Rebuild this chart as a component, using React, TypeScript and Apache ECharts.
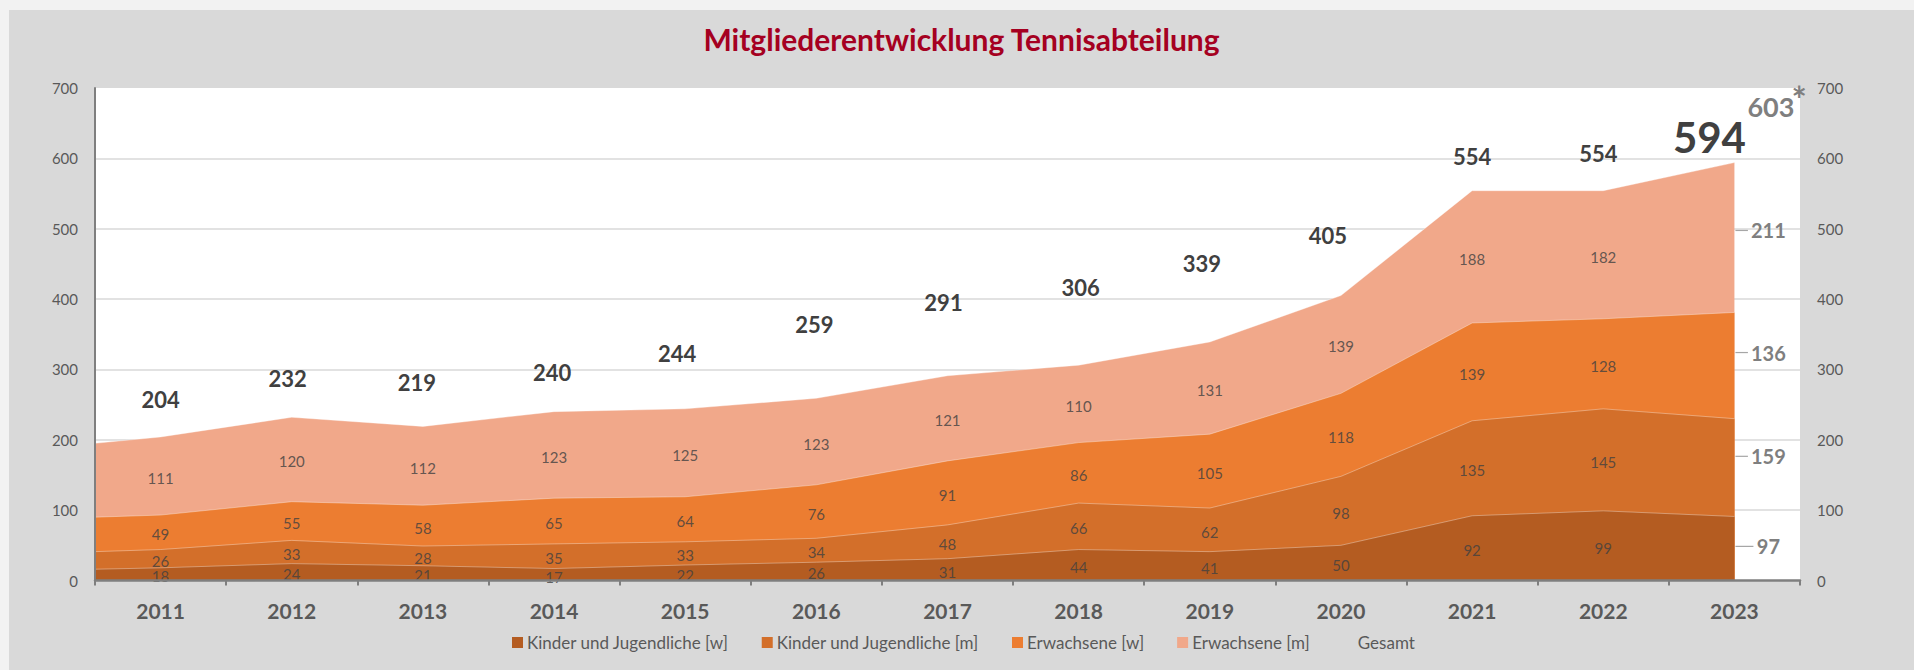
import React, { useEffect, useRef } from 'react';
import * as echarts from 'echarts';

// ---------- data ----------
const years = ['2011', '2012', '2013', '2014', '2015', '2016', '2017', '2018', '2019', '2020', '2021', '2022', '2023'];
const kinderW = [18, 24, 21, 17, 22, 26, 31, 44, 41, 50, 92, 99, 91];
const kinderM = [26, 33, 28, 35, 33, 34, 48, 66, 62, 98, 135, 145, 139];
const erwachseneW = [49, 55, 58, 65, 64, 76, 91, 86, 105, 118, 139, 128, 151];
const erwachseneM = [111, 120, 112, 123, 125, 123, 121, 110, 131, 139, 188, 182, 213];
const gesamt = [204, 232, 219, 240, 244, 259, 291, 306, 339, 405, 554, 554, 594];
// stacked-area values read at the left plot edge (one per series)
const leftEdge = [16, 25, 49, 105];
// 2023 breakdown shown at the right (sums to 603*)
const prognose2023 = [97, 159, 136, 211];
const prognoseGesamt = 603;

const seriesNames = ['Kinder und Jugendliche [w]', 'Kinder und Jugendliche [m]', 'Erwachsene [w]', 'Erwachsene [m]'];

// ---------- styling / layout ----------
const colors = ['#B45C21', '#D36F2A', '#EC7D31', '#F1A88A'];
const FONT = 'Lato, "Open Sans", sans-serif';
const gesamtLabelLift = [37, 39, 44, 39, 55, 74, 73, 78, 78, 60, 34, 37, 26];
const gesamtLabelShift = [0, -4, -6, -2, -8, -2, -4, 2, -8, -13, 0, -5, -25];

export default function App() {
  const ref = useRef<HTMLDivElement>(null);

  useEffect(() => {
    if (!ref.current) return;
    const chart = echarts.init(ref.current, undefined, { renderer: 'svg' });
    const bands = [kinderW, kinderM, erwachseneW, erwachseneM];
    const last = years.length - 1;

    // cumulative tops of each band (stacking done here; drawn top band first,
    // lower bands painted over it)
    const cumEdge: number[] = [];
    const cum: number[][] = [];
    bands.forEach((arr, s) => {
      cumEdge.push((s ? cumEdge[s - 1] : 0) + leftEdge[s]);
      cum.push(arr.map((v, i) => (s ? cum[s - 1][i] : 0) + v));
    });

    const areaSeries = bands
      .map((_, s) => ({
        name: seriesNames[s],
        type: 'line',
        xAxisIndex: 1,
        yAxisIndex: 0,
        symbol: 'none',
        lineStyle: { width: 1, color: 'rgba(255,255,255,0.35)' },
        itemStyle: { color: colors[s] },
        areaStyle: { color: colors[s], opacity: 1 },
        data: [[0, cumEdge[s]], ...cum[s].map((v, i) => [i + 0.5, v])],
        z: 2 + (bands.length - s) * 0.01,
        silent: true,
      }))
      .reverse();

    const bandLabelData: any[] = [];
    years.forEach((_, i) => {
      if (i === last) return;
      let base = 0;
      bands.forEach((arr) => {
        bandLabelData.push({ value: [i, base + arr[i] / 2], v: arr[i] });
        base += arr[i];
      });
    });

    const progData: number[][] = [];
    {
      let base = 0;
      prognose2023.forEach((v) => {
        progData.push([last + 0.5, base + v / 2, v]);
        base += v;
      });
    }

    chart.setOption({
      animation: false,
      backgroundColor: '#D9D9D9',
      title: {
        text: 'Mitgliederentwicklung Tennisabteilung',
        left: 'center',
        top: 14,
        padding: 0,
        textStyle: { color: '#A50021', fontSize: 30, fontWeight: 'bold', fontFamily: FONT },
      },
      legend: {
        left: 503,
        top: 624,
        padding: 0,
        icon: 'rect',
        itemWidth: 11,
        itemHeight: 11,
        itemGap: 33,
        itemStyle: { borderWidth: 0 },
        textStyle: { color: '#595959', fontSize: 17, fontFamily: FONT, padding: [0, 0, 0, -1] },
        data: [
          ...seriesNames.map((n, s) => ({ name: n, itemStyle: { color: colors[s] } })),
          { name: 'Gesamt', itemStyle: { color: 'rgba(0,0,0,0)' } },
        ],
        selectedMode: false,
      },
      grid: {
        left: 86,
        top: 78,
        right: 114,
        bottom: 89.5,
        show: true,
        backgroundColor: '#FFFFFF',
        borderWidth: 0,
      },
      xAxis: [
        {
          type: 'category',
          data: years,
          boundaryGap: true,
          position: 'bottom',
          axisLine: { show: true, lineStyle: { color: '#7F7F7F', width: 2.5 } },
          axisTick: { show: true, length: 5, lineStyle: { color: '#7F7F7F', width: 2 } },
          axisLabel: { color: '#595959', fontWeight: 'bold', fontSize: 21, fontFamily: FONT, margin: 19 },
          splitLine: { show: false },
          z: 10,
        },
        { type: 'value', min: 0, max: years.length, show: false },
      ],
      yAxis: [
        {
          type: 'value',
          min: 0,
          max: 700,
          interval: 100,
          position: 'left',
          axisLine: { show: false },
          axisTick: { show: false },
          axisLabel: { color: '#595959', fontSize: 15, fontFamily: FONT, margin: 17 },
          splitLine: { show: true, showMaxLine: false, lineStyle: { color: '#D9D9D9', width: 1.5 } },
        },
        {
          type: 'value',
          min: 0,
          max: 700,
          interval: 100,
          position: 'right',
          axisLine: { show: false },
          axisTick: { show: false },
          axisLabel: { color: '#595959', fontSize: 15, fontFamily: FONT, margin: 17 },
          splitLine: { show: false },
        },
        {
          type: 'value',
          min: 0,
          max: 700,
          interval: 100,
          position: 'left',
          axisLine: { show: true, lineStyle: { color: '#7F7F7F', width: 2 } },
          axisTick: { show: false },
          axisLabel: { show: false },
          splitLine: { show: false },
          z: 10,
        },
      ],
      series: [
        ...areaSeries,
        {
          name: 'Gesamt',
          type: 'line',
          xAxisIndex: 0,
          yAxisIndex: 0,
          symbol: 'circle',
          symbolSize: 1,
          itemStyle: { color: 'rgba(0,0,0,0)' },
          lineStyle: { opacity: 0, width: 0 },
          label: {
            show: true,
            position: 'inside',
            color: '#404040',
            fontWeight: 'bold',
            fontSize: 22,
            fontFamily: FONT,
          },
          data: gesamt.map((v, i) => ({
            value: v,
            label: {
              offset: [gesamtLabelShift[i], -gesamtLabelLift[i]],
              fontSize: i === last ? 42 : 22,
            },
          })),
          z: 6,
          silent: true,
        },
        {
          name: 'bandLabels',
          type: 'scatter',
          xAxisIndex: 0,
          yAxisIndex: 0,
          symbolSize: 0,
          itemStyle: { color: 'rgba(0,0,0,0)' },
          label: {
            show: true,
            position: 'inside',
            offset: [0, 2],
            color: '#404040',
            fontSize: 15,
            fontFamily: FONT,
            formatter: (p: any) => String(p.data.v),
          },
          data: bandLabelData,
          z: 7,
          silent: true,
        },
        {
          name: 'prognose',
          type: 'custom',
          xAxisIndex: 1,
          yAxisIndex: 0,
          data: progData,
          z: 8,
          silent: true,
          renderItem: (_params: any, api: any) => {
            const p = api.coord([api.value(0), api.value(1)]);
            const txt = String(api.value(2));
            const cx = p[0] + 34;
            const halfW = txt.length * 5.5;
            return {
              type: 'group',
              children: [
                {
                  type: 'line',
                  shape: { x1: p[0] + 1, y1: p[1], x2: cx - halfW - 4, y2: p[1] },
                  style: { stroke: '#A6A6A6', lineWidth: 1.2 },
                },
                {
                  type: 'text',
                  x: cx,
                  y: p[1],
                  style: {
                    text: txt,
                    fill: '#7F7F7F',
                    font: `bold 20px ${FONT}`,
                    align: 'center',
                    verticalAlign: 'middle',
                  },
                },
              ],
            };
          },
        },
        {
          name: 'prognoseGesamt',
          type: 'custom',
          xAxisIndex: 1,
          yAxisIndex: 0,
          data: [[last + 0.5, prognoseGesamt]],
          z: 8,
          silent: true,
          renderItem: (_params: any, api: any) => {
            const p = api.coord([api.value(0), api.value(1)]);
            return {
              type: 'group',
              children: [
                {
                  type: 'text',
                  x: p[0] + 13,
                  y: p[1] - 50,
                  style: {
                    text: String(api.value(1)),
                    fill: '#7F7F7F',
                    font: `bold 27px ${FONT}`,
                    align: 'left',
                    verticalAlign: 'middle',
                  },
                },
                {
                  type: 'text',
                  x: p[0] + 57,
                  y: p[1] - 57,
                  style: {
                    text: '*',
                    fill: '#7F7F7F',
                    font: `bold 36px ${FONT}`,
                    align: 'left',
                    verticalAlign: 'middle',
                  },
                },
              ],
            };
          },
        },
      ],
    });

    return () => chart.dispose();
  }, []);

  return (
    <div style={{ position: 'fixed', left: 0, top: 0, width: 1914, height: 670, background: '#F2F2F2' }}>
      <div ref={ref} style={{ position: 'absolute', left: 9, top: 10, width: 1905, height: 660 }} />
    </div>
  );
}
